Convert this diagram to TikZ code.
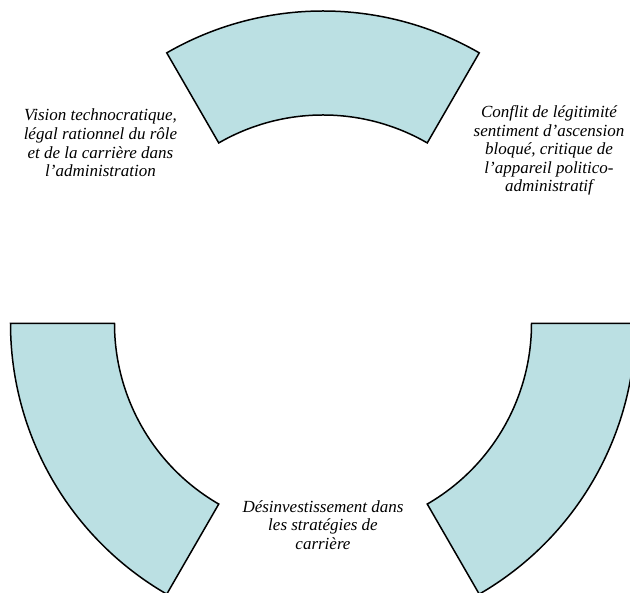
\documentclass[tikz,border=0pt]{standalone}
\usepackage{fontspec}
\setmainfont{Liberation Serif}
\definecolor{segfill}{HTML}{BBE0E3}
\begin{document}
\begin{tikzpicture}[x=1pt,y=1pt,
  seg/.style={draw=black,fill=segfill,line width=1.5pt,line join=miter},
  lbl/.style={align=center,inner sep=0pt,font=\fontsize{17}{18.6}\selectfont\itshape}]
\useasboundingbox (0,0) rectangle (630,593);
\clip (0,0) rectangle (630,593);
\coordinate (C) at (323,269.5);
% top sector
\draw[seg] ([shift={(60:312.5)}]C) arc[start angle=60,end angle=120,radius=312.5]
  -- ([shift={(120:208.5)}]C) arc[start angle=120,end angle=60,radius=208.5] -- cycle;
% bottom-left sector
\draw[seg] ([shift={(180:312.5)}]C) arc[start angle=180,end angle=240,radius=312.5]
  -- ([shift={(240:208.5)}]C) arc[start angle=240,end angle=180,radius=208.5] -- cycle;
% bottom-right sector
\draw[seg] ([shift={(300:312.5)}]C) arc[start angle=300,end angle=360,radius=312.5]
  -- ([shift={(0:208.5)}]C) arc[start angle=360,end angle=300,radius=208.5] -- cycle;
\node[lbl] (t1) at (100.5,450) {Vision technocratique,\\légal rationnel du rôle\\et de la carrière dans\\l’administration};
\node[lbl] (t2) at (549,442.5) {Conflit de légitimité\\sentiment d’ascension\\bloqué, critique de\\l’appareil politico-\\administratif};
\node[lbl] (t3) at (323,68) {Désinvestissement dans\\les stratégies de\\carrière};
\end{tikzpicture}
\end{document}
